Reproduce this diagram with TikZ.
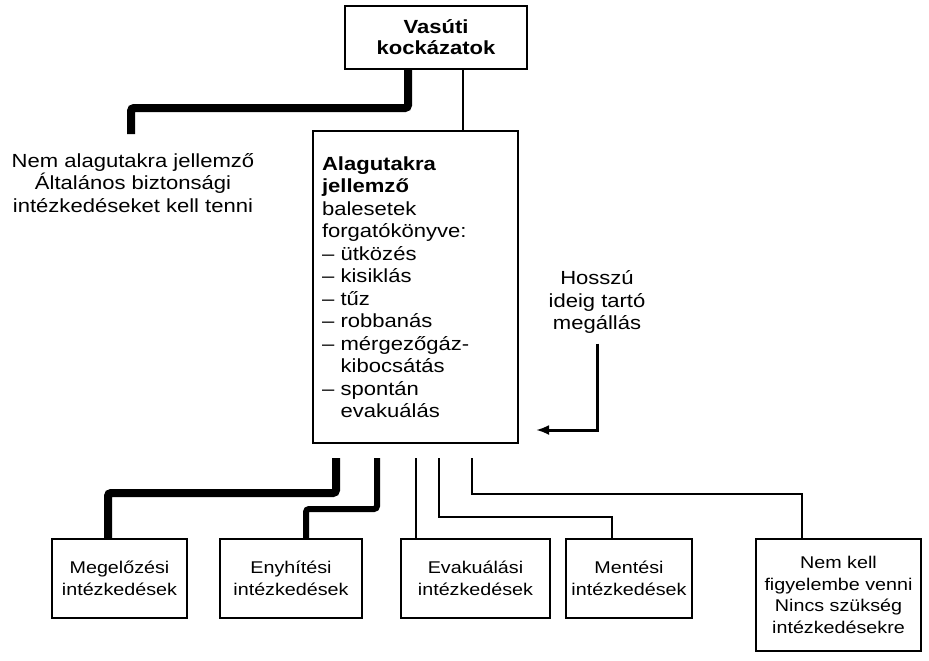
\documentclass[tikz,border=0pt]{standalone}
\usepackage{fontspec}
\setmainfont{Liberation Sans}[FakeStretch=1.16]
\usetikzlibrary{arrows.meta}

\begin{document}
\begin{tikzpicture}[
        x=1pt, y=-1pt,
        box/.style={draw, line width=2pt, align=center, inner sep=0pt,
            font=\fontsize{17}{21.5}\selectfont},
        note/.style={align=center, inner sep=0pt,
            font=\fontsize{19}{22.5}\selectfont},
        heavyline/.style={line width=8pt, rounded corners=3pt},
        midline/.style={line width=6pt, rounded corners=3pt},
        thinline/.style={line width=2pt}
    ]
    \useasboundingbox (0,0) rectangle (929,661);

    \node[
        box,
        minimum width=182pt,
        minimum height=63pt,
        font=\bfseries\fontsize{19}{21}\selectfont
    ] (risk) at (436,37.5) {
        Vasúti\\
        kockázatok
    };

    \node[
        box,
        minimum width=205pt,
        minimum height=312pt,
        text width=187pt,
        align=left,
        font=\fontsize{19}{22.5}\selectfont
    ] (tunnel) at (415.5,287) {
        \textbf{Alagutakra}\\
        \textbf{jellemző}\\
        balesetek\\
        forgatókönyve:\\
        – ütközés\\
        – kisiklás\\
        – tűz\\
        – robbanás\\
        – mérgezőgáz-\\
        \phantom{– }kibocsátás\\
        – spontán\\
        \phantom{– }evakuálás
    };

    \node[note] (general) at (133,183) {
        Nem alagutakra jellemző\\
        Általános biztonsági\\
        intézkedéseket kell tenni
    };
    \coordinate (other) at (131,134);

    \node[note] (stop) at (597,302) {
        Hosszú\\
        ideig tartó\\
        megállás
    };
    \coordinate (turn) at (597,430);

    \node[box, minimum width=135pt, minimum height=79pt] (prevent) at (119.5,578.5) {
        Megelőzési\\
        intézkedések
    };
    \node[box, minimum width=142pt, minimum height=79pt] (mitig) at (291,578.5) {
        Enyhítési\\
        intézkedések
    };
    \node[box, minimum width=149pt, minimum height=79pt] (evac) at (475.5,578.5) {
        Evakuálási\\
        intézkedések
    };
    \node[box, minimum width=126pt, minimum height=79pt] (rescue) at (629,578.5) {
        Mentési\\
        intézkedések
    };
    \node[box, minimum width=165pt, minimum height=112pt] (none) at (838.5,595) {
        Nem kell\\
        figyelembe venni\\
        Nincs szükség\\
        intézkedésekre
    };

    \draw[heavyline] ([xshift=-28pt]risk.south) -- ++(0,38) -| (other);
    \draw[thinline] ([xshift=27pt]risk.south) -- ([xshift=27pt]risk.south |- tunnel.north);

    \draw[line width=3pt, -{Latex[length=13pt,width=10pt]}]
        ([yshift=-10pt]stop.south) -- (turn) -- ([xshift=17pt]tunnel.east |- turn);

    \draw[heavyline] ([yshift=-14pt]tunnel.south -| 336,0) -- ++(0,35) -| ([xshift=-11.5pt]prevent.north);
    \draw[midline] ([yshift=-14pt]tunnel.south -| 377,0) -- ++(0,51) -| ([xshift=15pt]mitig.north);
    \draw[thinline] ([yshift=-14pt]tunnel.south -| 416,0) -- (evac.north -| 416,0);
    \draw[thinline] ([yshift=-14pt]tunnel.south -| 439,0) -- ++(0,59) -| ([xshift=-17pt]rescue.north);
    \draw[thinline] ([yshift=-14pt]tunnel.south -| 472,0) -- ++(0,36) -| ([xshift=-36.5pt]none.north);
\end{tikzpicture}
\end{document}
